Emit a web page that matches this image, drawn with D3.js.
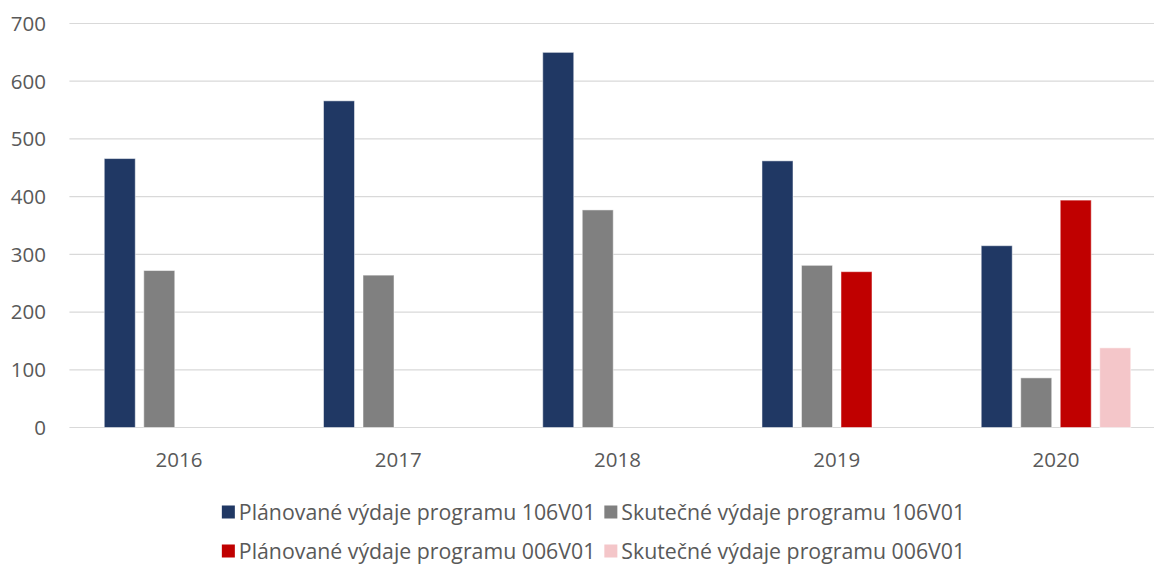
<!DOCTYPE html>
<html lang="cs">
<head>
  <meta charset="UTF-8">
  <title>Výdaje programů</title>
  <script src="https://d3js.org/d3.v7.min.js"></script>
  <style>
    body { margin: 0; background: #fff; }
    text { font-family: "Open Sans", sans-serif; fill: #595959; }
  </style>
</head>
<body>
  <div id="chart"></div>
  <script>
    const years = ["2016", "2017", "2018", "2019", "2020"];
    const seriesNames = [
      "Plánované výdaje programu 106V01",
      "Skutečné výdaje programu 106V01",
      "Plánované výdaje programu 006V01",
      "Skutečné výdaje programu 006V01"
    ];
    const planned106 = [466, 566, 650, 462, 315];
    const actual106 = [272, 264, 377, 281, 86];
    const planned006 = [null, null, null, 270, 394];
    const actual006 = [null, null, null, null, 138];
    const yTicks = [0, 100, 200, 300, 400, 500, 600, 700];

    const colors = ["#203864", "#808080", "#C00000", "#F4C6C9"];
    const seriesValues = [planned106, actual106, planned006, actual006];

    const width = 1154, height = 566;
    const svg = d3.select("#chart").append("svg")
      .attr("width", width)
      .attr("height", height);

    const y = d3.scaleLinear().domain([0, 700]).range([427.5, 23.5]);

    const x0 = d3.scaleBand()
      .domain(years)
      .range([69.4, 1165.6])
      .paddingInner(0.318)
      .paddingOuter(0.159);

    const x1 = d3.scaleBand()
      .domain(d3.range(seriesNames.length))
      .range([0, x0.bandwidth()])
      .paddingInner(0.215);

    // gridlines
    svg.append("g")
      .selectAll("line")
      .data(yTicks)
      .join("line")
      .attr("x1", 69.4)
      .attr("x2", width)
      .attr("y1", d => y(d))
      .attr("y2", d => y(d))
      .attr("stroke", "#d9d9d9")
      .attr("stroke-width", 1.2);

    // y tick labels
    svg.append("g")
      .selectAll("text")
      .data(yTicks)
      .join("text")
      .attr("x", 46)
      .attr("y", d => y(d))
      .attr("dy", "0.36em")
      .attr("text-anchor", "end")
      .attr("font-size", "20.5px")
      .text(d => d);

    // bars
    const rows = [];
    years.forEach((yr, i) => {
      seriesValues.forEach((vals, s) => {
        if (vals[i] != null) rows.push({ year: yr, s: s, value: vals[i] });
      });
    });

    svg.append("g")
      .selectAll("rect")
      .data(rows)
      .join("rect")
      .attr("x", d => x0(d.year) + x1(d.s))
      .attr("y", d => y(d.value))
      .attr("width", x1.bandwidth())
      .attr("height", d => y(0) - y(d.value))
      .attr("fill", d => colors[d.s])
      .attr("stroke", "#ffffff")
      .attr("stroke-opacity", 0.5)
      .attr("stroke-width", 1);

    // x labels
    svg.append("g")
      .selectAll("text")
      .data(years)
      .join("text")
      .attr("x", d => x0(d) + x0.bandwidth() / 2)
      .attr("y", 460)
      .attr("dy", "0.36em")
      .attr("text-anchor", "middle")
      .attr("font-size", "20.5px")
      .text(d => d);

    // legend, two rows of two items, centred
    const legendRows = [[0, 1], [2, 3]];
    const legendY = [512, 551];
    const legendCenter = 593.5;
    legendRows.forEach((row, r) => {
      const g = svg.append("g");
      let xPos = 0;
      row.forEach((s, k) => {
        g.append("rect")
          .attr("x", xPos)
          .attr("y", legendY[r] - 6.5)
          .attr("width", 13)
          .attr("height", 13)
          .attr("fill", colors[s]);
        const t = g.append("text")
          .attr("x", xPos + 17)
          .attr("y", legendY[r])
          .attr("dy", "0.36em")
          .attr("font-size", "21.3px")
          .text(seriesNames[s]);
        xPos += 17 + t.node().getComputedTextLength() + (k === 0 ? 9 : 0);
      });
      g.attr("transform", `translate(${legendCenter - xPos / 2},0)`);
    });
  </script>
</body>
</html>
